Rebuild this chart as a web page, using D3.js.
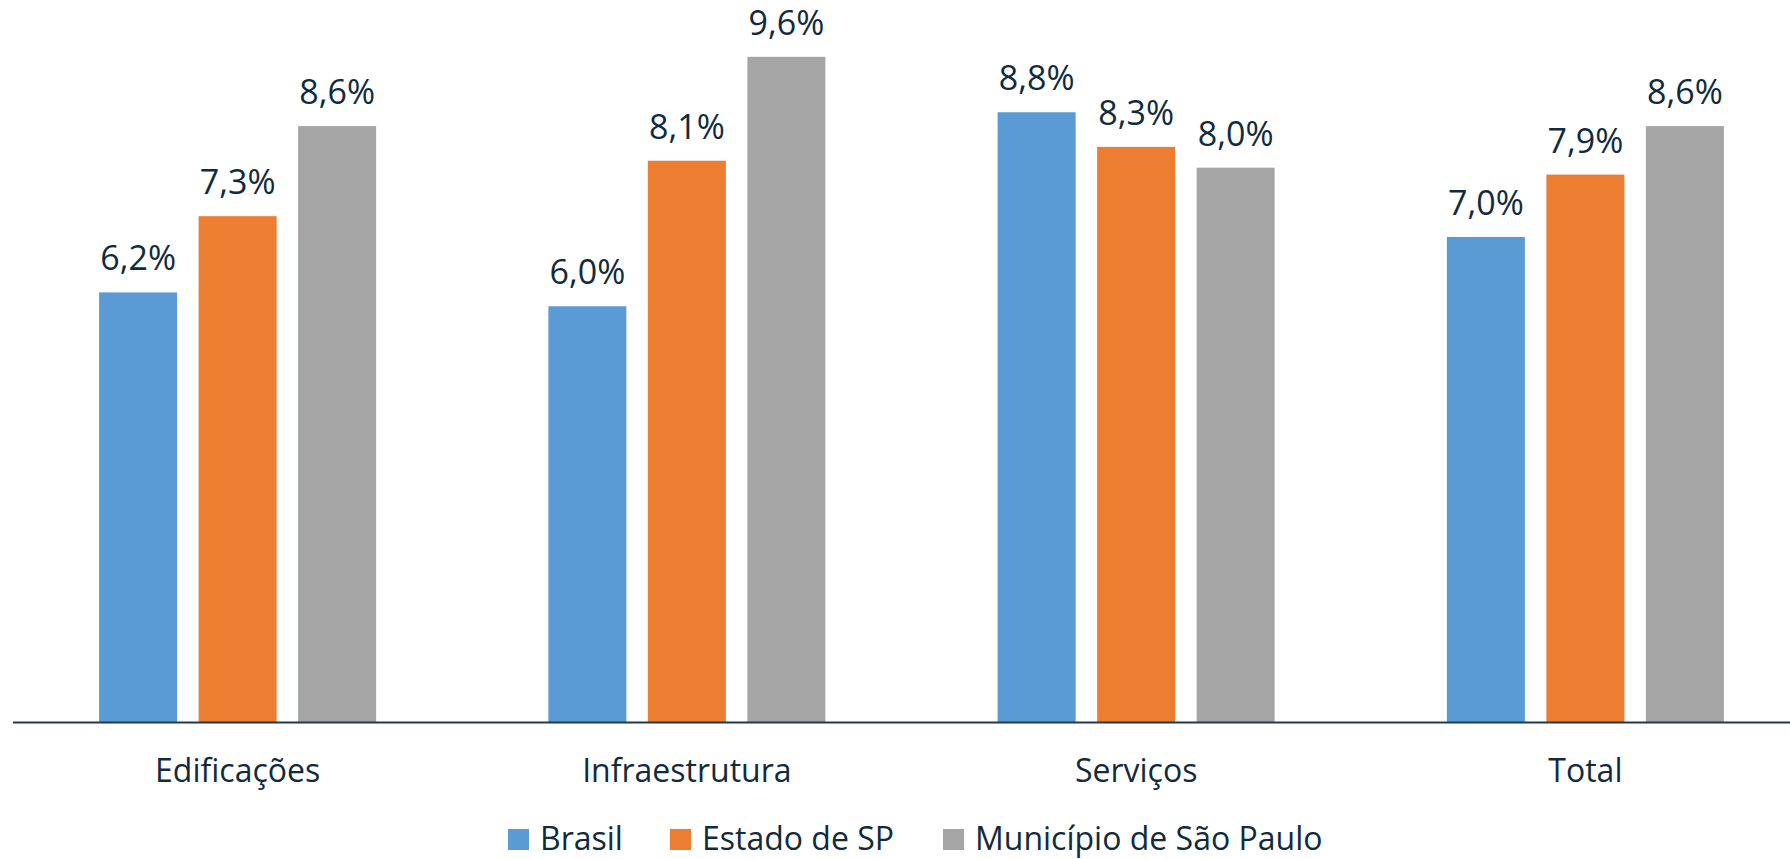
<!DOCTYPE html>
<html>
<head>
<meta charset="utf-8">
<script src="https://cdn.jsdelivr.net/npm/d3@7"></script>
<style>
  body { margin: 0; background: #fff; }
  svg { display: block; font-family: "Open Sans", sans-serif; }
</style>
</head>
<body>
<div class="chart"></div>
<script>
// Data
let categories = ["Edificações", "Infraestrutura", "Serviços", "Total"];
let seriesNames = ["Brasil", "Estado de SP", "Município de São Paulo"];
let brasil = [6.2, 6.0, 8.8, 7.0];
let estadoSP = [7.3, 8.1, 8.3, 7.9];
let municipioSP = [8.6, 9.6, 8.0, 8.6];
let colors = ["#5b9bd5", "#ed7d31", "#a5a5a5"];

// Global Variables
let width = 1790;
let height = 859;
let baseY = 722;
let textColor = "#112b3c";
let seriesValues = [brasil, estadoSP, municipioSP];

let svg = d3
  .select(".chart")
  .append("svg")
  .attr("width", width)
  .attr("height", height);

// Scales
let x0 = d3
  .scaleBand()
  .domain(categories)
  .range([13, 1810])
  .paddingInner(0.3834)
  .paddingOuter(0.1917);

let x1 = d3
  .scaleBand()
  .domain(seriesNames)
  .range([0, x0.bandwidth()])
  .paddingInner(0.216)
  .paddingOuter(0);

let y = d3.scaleLinear().domain([0, 10.42]).range([baseY, 0]);

let fmt = (v) => d3.format(".1f")(v).replace(".", ",") + "%";

// Build rows for each category
let rows = categories.map(function (c, i) {
  return {
    category: c,
    values: seriesNames.map(function (s, j) {
      return { series: s, value: seriesValues[j][i], color: colors[j] };
    }),
  };
});

// Create Bars
let groups = svg
  .append("g")
  .attr("class", "bars")
  .selectAll("g")
  .data(rows)
  .enter()
  .append("g")
  .attr("transform", (d) => `translate(${x0(d.category)},0)`);

groups
  .selectAll("rect")
  .data((d) => d.values)
  .enter()
  .append("rect")
  .attr("x", (d) => x1(d.series))
  .attr("y", (d) => y(d.value))
  .attr("width", x1.bandwidth())
  .attr("height", (d) => y(0) - y(d.value))
  .attr("fill", (d) => d.color);

// Value Labels
groups
  .selectAll("text")
  .data((d) => d.values)
  .enter()
  .append("text")
  .attr("x", (d) => x1(d.series) + x1.bandwidth() / 2)
  .attr("y", (d) => y(d.value) - 22)
  .attr("text-anchor", "middle")
  .attr("font-size", 34)
  .attr("fill", textColor)
  .text((d) => fmt(d.value));

// Axis
let xAxis = svg
  .append("g")
  .attr("transform", `translate(0,${baseY})`)
  .call(d3.axisBottom(x0).tickSize(0).tickPadding(0));

xAxis
  .select(".domain")
  .attr("d", `M13,0.5H${width}`)
  .attr("stroke", "#1f3a4c")
  .attr("stroke-width", 2);

xAxis
  .selectAll(".tick text")
  .attr("y", 60)
  .attr("dy", 0)
  .attr("font-family", '"Open Sans", sans-serif')
  .attr("font-size", 32)
  .attr("fill", textColor);

// Legend
let legendX = [508, 670, 943];
let legend = svg
  .append("g")
  .attr("class", "legend")
  .selectAll("g")
  .data(seriesNames)
  .enter()
  .append("g")
  .attr("transform", (d, i) => `translate(${legendX[i]},829)`);

legend
  .append("rect")
  .attr("width", 21)
  .attr("height", 21)
  .attr("fill", (d, i) => colors[i]);

legend
  .append("text")
  .attr("x", 32)
  .attr("y", 21)
  .attr("font-size", 32)
  .attr("fill", textColor)
  .text((d) => d);
</script>
</body>
</html>
